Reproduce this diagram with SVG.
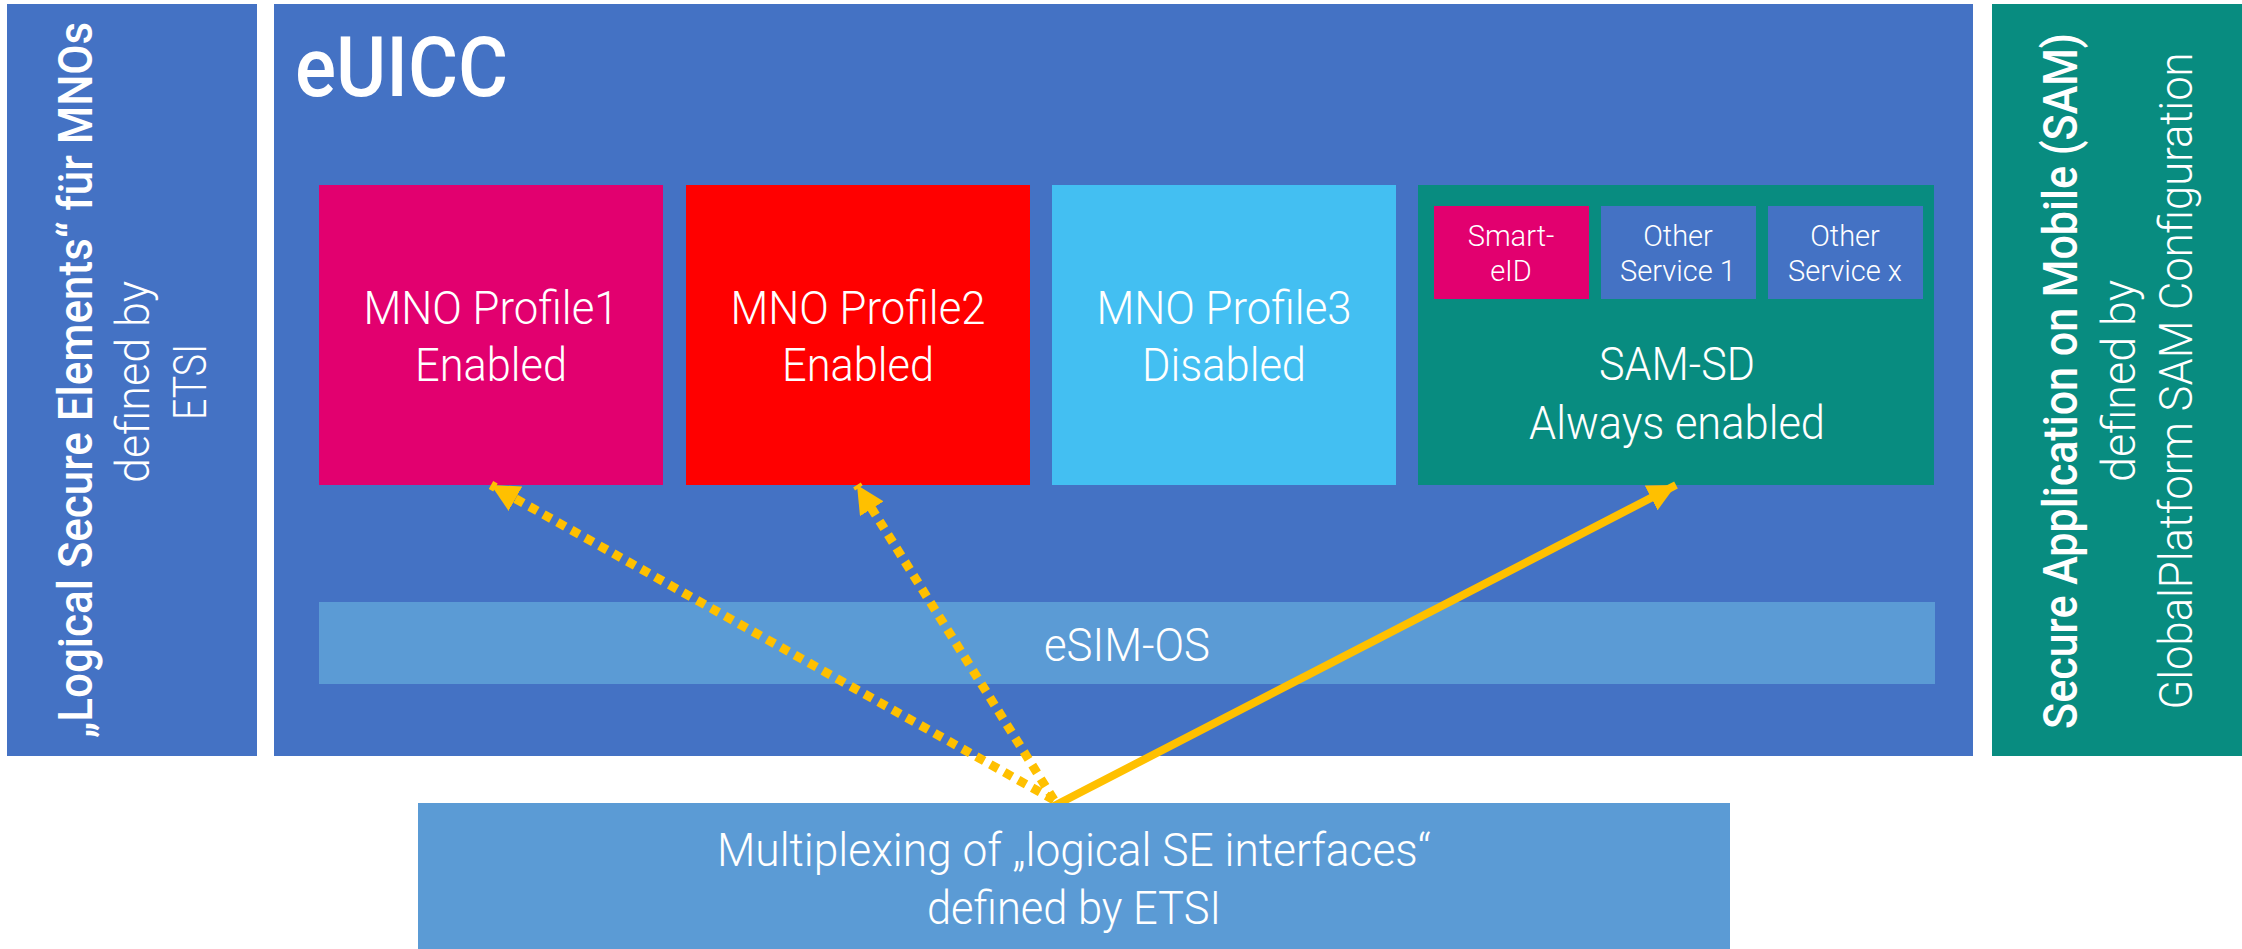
<svg xmlns="http://www.w3.org/2000/svg" width="2242" height="949" viewBox="0 0 2242 949">
<style>
text{font-family:"Roboto","Liberation Sans",sans-serif;font-weight:300;fill:#fff;text-anchor:middle}
.l{font-size:47px}
.s{font-size:29px}
.b{font-size:48px;font-weight:500}
.t{font-size:84px;font-weight:500;text-anchor:start}
.c{fill:none;stroke:#FFC000;stroke-width:8}
.d{stroke-width:9;stroke-dasharray:9 7}
</style>
<defs>
<marker id="a" markerUnits="userSpaceOnUse" markerWidth="28" markerHeight="28" refX="28" refY="14" orient="auto"><path d="M0 0L28 14L0 28z" fill="#FFC000"/></marker>
</defs>
<rect width="2242" height="949" fill="#fff"/>
<g id="left-panel"><rect x="7" y="4" width="250" height="752" fill="#4472C4"/>
<text class="b" transform="translate(92 380) rotate(-90) scale(0.915 1)">„Logical Secure Elements“ für MNOs</text>
<text class="l" transform="translate(149 382) rotate(-90)" textLength="202" lengthAdjust="spacingAndGlyphs">defined by</text>
<text class="l" transform="translate(206 382) rotate(-90)" textLength="76" lengthAdjust="spacingAndGlyphs">ETSI</text></g>
<g id="euicc"><rect x="274" y="4" width="1699" height="752" fill="#4472C4"/>
<text class="t" x="295" y="96" textLength="213" lengthAdjust="spacingAndGlyphs">eUICC</text></g>
<g id="mno1"><rect x="319" y="185" width="344" height="300" fill="#E2006F"/>
<text class="l" x="491" y="324" textLength="255" lengthAdjust="spacingAndGlyphs">MNO Profile1</text><text class="l" x="491" y="381" textLength="152" lengthAdjust="spacingAndGlyphs">Enabled</text></g>
<g id="mno2"><rect x="686" y="185" width="344" height="300" fill="#FF0000"/>
<text class="l" x="858" y="324" textLength="255" lengthAdjust="spacingAndGlyphs">MNO Profile2</text><text class="l" x="858" y="381" textLength="152" lengthAdjust="spacingAndGlyphs">Enabled</text></g>
<g id="mno3"><rect x="1052" y="185" width="344" height="300" fill="#43BFF2"/>
<text class="l" x="1224" y="324" textLength="255" lengthAdjust="spacingAndGlyphs">MNO Profile3</text><text class="l" x="1224" y="381" textLength="164" lengthAdjust="spacingAndGlyphs">Disabled</text></g>
<g id="sam-sd"><rect x="1418" y="185" width="516" height="300" fill="#088C80"/>
<text class="l" x="1677" y="380" textLength="156" lengthAdjust="spacingAndGlyphs">SAM-SD</text><text class="l" x="1677" y="439" textLength="296" lengthAdjust="spacingAndGlyphs">Always enabled</text></g>
<g id="smart-eid"><rect x="1434" y="206" width="155" height="93" fill="#E2006F"/>
<text class="s" x="1511" y="246">Smart-</text><text class="s" x="1511" y="281">eID</text></g>
<g id="service-1"><rect x="1601" y="206" width="155" height="93" fill="#4472C4"/>
<text class="s" x="1678" y="246">Other</text><text class="s" x="1678" y="281">Service 1</text></g>
<g id="service-x"><rect x="1768" y="206" width="155" height="93" fill="#4472C4"/>
<text class="s" x="1845" y="246">Other</text><text class="s" x="1845" y="281">Service x</text></g>
<g id="esim-os"><rect x="319" y="602" width="1616" height="82" fill="#5B9BD5"/>
<text class="l" x="1127" y="661" textLength="166" lengthAdjust="spacingAndGlyphs">eSIM-OS</text></g>
<g id="right-panel"><rect x="1992" y="4" width="250" height="752" fill="#088C80"/>
<text class="b" transform="translate(2077 381) rotate(-90) scale(0.897 1)">Secure Application on Mobile (SAM)</text>
<text class="l" transform="translate(2135 381) rotate(-90)" textLength="202" lengthAdjust="spacingAndGlyphs">defined by</text>
<text class="l" transform="translate(2192 381) rotate(-90)" textLength="657" lengthAdjust="spacingAndGlyphs">GlobalPlatform SAM Configuration</text></g>
<g id="connectors">
<line class="c d" x1="1054" y1="800" x2="491" y2="485" marker-end="url(#a)"/>
<line class="c d" x1="1054" y1="800" x2="857" y2="485" marker-end="url(#a)"/>
<line class="c" x1="1054" y1="806" x2="1676" y2="485" marker-end="url(#a)"/>
</g>
<g id="mux"><rect x="418" y="803" width="1312" height="146" fill="#5B9BD5"/>
<text class="l" x="1074" y="866" textLength="714" lengthAdjust="spacingAndGlyphs">Multiplexing of „logical SE interfaces“</text><text class="l" x="1074" y="924" textLength="294" lengthAdjust="spacingAndGlyphs">defined by ETSI</text></g>
</svg>
